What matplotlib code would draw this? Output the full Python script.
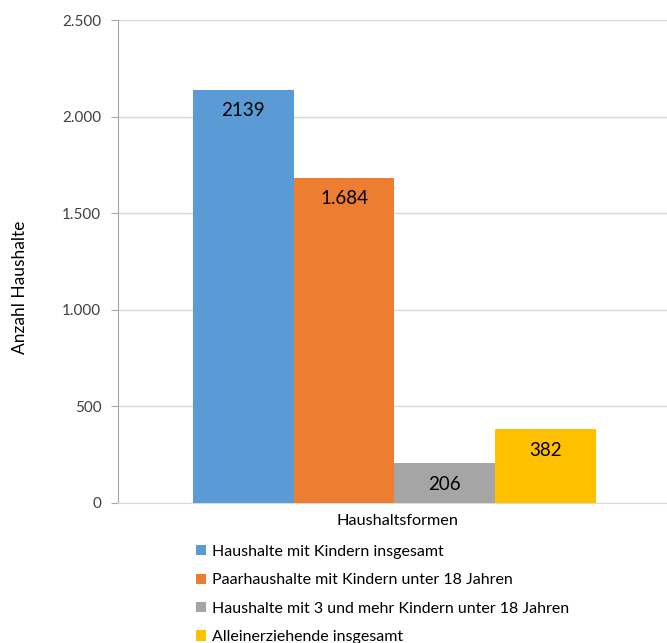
import matplotlib.pyplot as plt
from matplotlib.patches import Patch
from matplotlib.ticker import FuncFormatter

plt.rcParams['font.family'] = ['Lato', 'DejaVu Sans']

categories = ["Haushalte mit Kindern insgesamt",
              "Paarhaushalte mit Kindern unter 18 Jahren",
              "Haushalte mit 3 und mehr Kindern unter 18 Jahren",
              "Alleinerziehende insgesamt"]
values = [2139, 1684, 206, 382]
value_labels = ["2139", "1.684", "206", "382"]
colors = ["#5B9BD5", "#ED7D31", "#A5A5A5", "#FFC000"]
yticks = [0, 500, 1000, 1500, 2000, 2500]

W, H = 667, 643
fig = plt.figure(figsize=(W / 100, H / 100), dpi=100)
ax = fig.add_axes([118 / W, 1 - 503 / H, (667 - 118) / W, (503 - 20) / H])

xs = range(len(values))
ax.bar(xs, values, width=1.0, color=colors, zorder=3)
for x, v, lab in zip(xs, values, value_labels):
    ax.text(x, v - 110, lab, ha="center", va="center", fontsize=13.5, color="#000000", zorder=4)

ax.set_xlim(-1.244, 4.205)
ax.set_ylim(0, 2500)
ax.set_yticks(yticks)
ax.yaxis.set_major_formatter(FuncFormatter(lambda v, p: f"{int(v):,}".replace(",", ".")))
ax.tick_params(axis="y", length=5, color="#A6A6A6", labelsize=11, labelcolor="#404040", pad=7)
ax.set_xticks([])
ax.grid(axis="y", color="#D9D9D9", linewidth=1, zorder=0)
for s in ["top", "right"]:
    ax.spines[s].set_visible(False)
ax.spines["bottom"].set_color("#D9D9D9")
ax.spines["left"].set_color("#A6A6A6")

ax.set_xlabel("Haushaltsformen", fontsize=11.7, color="#000000")
ax.xaxis.set_label_coords((397 - 118) / (667 - 118), -(521 - 503) / (503 - 20), transform=ax.transAxes)
ax.xaxis.label.set_va("center")
fig.text(20 / W, 1 - 287 / H, "Anzahl Haushalte", rotation=90, ha="center", va="center",
         fontsize=12.5, color="#000000")

handles = [Patch(facecolor=c) for c in colors]
fig.legend(handles, categories, loc="upper left", bbox_to_anchor=(196 / W, 1 - 545 / H),
           frameon=False, fontsize=11.5, handlelength=0.6, handleheight=0.6,
           handletextpad=0.4, labelspacing=0.9, borderaxespad=0, borderpad=0)

fig.savefig("out.png", dpi=100)
